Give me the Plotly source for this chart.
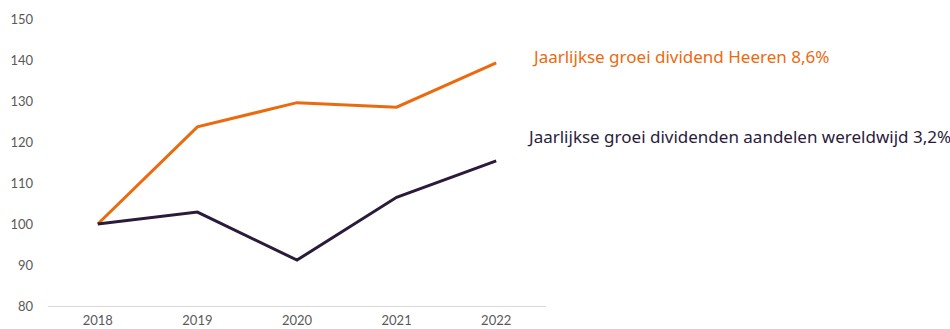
import plotly.graph_objects as go

years = ["2018", "2019", "2020", "2021", "2022"]
heeren = [100, 123.7, 129.6, 128.5, 139.3]
wereld = [100, 102.9, 91.2, 106.5, 115.4]
y_ticks = [80, 90, 100, 110, 120, 130, 140, 150]

orange = "#EC6A0E"
dark = "#2B1B3A"

fig = go.Figure()
fig.add_trace(go.Scatter(x=years, y=heeren, mode="lines",
                         line=dict(color=orange, width=3), showlegend=False))
fig.add_trace(go.Scatter(x=years, y=wereld, mode="lines",
                         line=dict(color=dark, width=3), showlegend=False))

fig.add_annotation(text="Jaarlijkse groei dividend Heeren 8,6%", xref="paper", yref="paper",
                   x=0.968, y=0.871, xanchor="left", yanchor="middle", showarrow=False,
                   font=dict(family="Noto Sans", size=17, color=orange))
fig.add_annotation(text="Jaarlijkse groei dividenden aandelen wereldwijd 3,2%", xref="paper", yref="paper",
                   x=0.958, y=0.592, xanchor="left", yanchor="middle", showarrow=False,
                   font=dict(family="Noto Sans", size=17, color=dark))

fig.update_layout(
    width=950, height=329,
    margin=dict(l=48, r=404, t=19, b=23),
    plot_bgcolor="white", paper_bgcolor="white",
    xaxis=dict(type="category", range=[-0.5, 4.5], automargin=False, showgrid=False,
               showline=True, linecolor="#D9D9D9", linewidth=1,
               ticks="", tickfont=dict(family="Lato", size=13, color="#595959"),
               ticklabelstandoff=2, zeroline=False),
    yaxis=dict(range=[80, 150], tickvals=y_ticks, automargin=False, showgrid=False,
               showline=False, zeroline=False,
               ticks="", tickfont=dict(family="Lato", size=13, color="#595959"),
               ticklabelstandoff=14),
)

fig.write_html("out.html")
